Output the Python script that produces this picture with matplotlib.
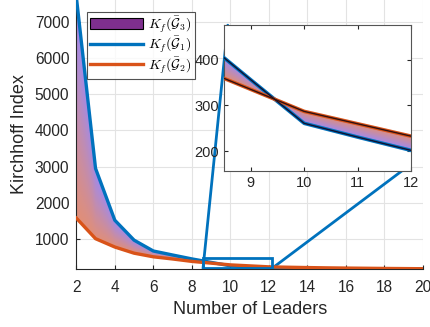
import numpy as np
import matplotlib.pyplot as plt
from matplotlib.patches import Rectangle, ConnectionPatch, Patch
from matplotlib.lines import Line2D

plt.rcParams['font.family'] = ['Liberation Sans', 'DejaVu Sans']
plt.rcParams['mathtext.fontset'] = 'cm'

# data
leaders = [2, 3, 4, 5, 6, 7, 8, 9, 10, 11, 12, 13, 14, 15, 16, 17, 18, 19, 20]
kf_g1 = [7700, 2950, 1520, 970, 670, 560, 452, 356, 261, 231, 202,
         193, 186, 182, 178, 176, 174, 172, 171]
kf_g2 = [1580, 1010, 780, 610, 510, 450, 383, 335, 287, 260, 233,
         222, 213, 205, 199, 194, 189, 185, 181]
labels = [r'$K_f(\bar{\mathcal{G}}_3)$', r'$K_f(\bar{\mathcal{G}}_1)$',
          r'$K_f(\bar{\mathcal{G}}_2)$']

blue = '#0072BD'
orange = '#D95319'
purple = '#7E2F8E'
c_orange = np.array([0.88, 0.56, 0.47])
c_blue = np.array([0.62, 0.54, 0.94])


def gradient_fill(ax, x, y_o, y_b, xlim, ylim):
    x = np.asarray(x, float)
    y_o = np.asarray(y_o, float)
    y_b = np.asarray(y_b, float)
    poly = ax.fill_between(x, y_o, y_b, facecolor='none', edgecolor='none')
    xx = np.linspace(xlim[0], xlim[1], 600)
    yy = np.linspace(ylim[0], ylim[1], 900)
    X, Y = np.meshgrid(xx, yy)
    yo = np.interp(xx, x, y_o)
    yb = np.interp(xx, x, y_b)
    d = yb - yo
    d[np.abs(d) < 1e-9] = 1e-9
    t = np.clip((Y - yo) / d, 0, 1)
    img = (1 - t)[..., None] * c_orange + t[..., None] * c_blue
    im = ax.imshow(img, extent=[xlim[0], xlim[1], ylim[0], ylim[1]],
                   origin='lower', aspect='auto', zorder=1, interpolation='bilinear')
    im.set_clip_path(poly.get_paths()[0], transform=ax.transData)
    ax.set_xlim(xlim)
    ax.set_ylim(ylim)


fig = plt.figure(figsize=(4.3, 3.27), dpi=100)
ax = fig.add_axes([0.1774, 0.177, 0.8063, 0.823])

xlim = (2, 20)
ylim = (170, 7600)
gradient_fill(ax, leaders, kf_g2, kf_g1, xlim, ylim)
ax.plot(leaders, kf_g1, color=blue, lw=2.4, zorder=3)
ax.plot(leaders, kf_g2, color=orange, lw=2.4, zorder=3)

ax.set_xticks(range(2, 21, 2))
ax.set_yticks(range(1000, 8000, 1000))
ax.grid(True, color='#e3e3e3', lw=0.8)
ax.set_axisbelow(True)
for s in ['top', 'right']:
    ax.spines[s].set_visible(False)
for s in ['left', 'bottom']:
    ax.spines[s].set_color('#262626')
    ax.spines[s].set_linewidth(0.8)
ax.tick_params(direction='in', labelsize=11.2, colors='#262626', length=3)
ax.tick_params(axis='x', pad=8)
ax.tick_params(axis='y', pad=5)
ax.set_xlabel('Number of Leaders', fontsize=13, color='#262626', labelpad=4)
ax.set_ylabel('Kirchhoff Index', fontsize=13, color='#262626', labelpad=5)

# zoom box
rx0, rx1, ry0, ry1 = 8.58, 12.16, 190, 490
ax.add_patch(Rectangle((rx0, ry0), rx1 - rx0, ry1 - ry0, fill=False,
                       edgecolor=blue, lw=2, zorder=4))

# legend
handles = [Patch(facecolor=purple, edgecolor='black', lw=0.8),
           Line2D([], [], color=blue, lw=2.4),
           Line2D([], [], color=orange, lw=2.4)]
leg = ax.legend(handles, labels, loc='upper left', bbox_to_anchor=(0.032, 0.957),
                fontsize=10, frameon=True, fancybox=False, handlelength=3.8,
                handleheight=0.9, borderpad=0.2, labelspacing=0.0,
                handletextpad=0.4, borderaxespad=0.0)
leg.get_frame().set_edgecolor('#262626')
leg.get_frame().set_linewidth(0.8)

# inset
ins = fig.add_axes([0.521, 0.477, 0.435, 0.446])
ixlim = (8.5, 12)
iylim = (157, 475)
gradient_fill(ins, leaders, kf_g2, kf_g1, ixlim, iylim)
ins.plot(leaders, kf_g1, color=blue, lw=2.6, zorder=3)
ins.plot(leaders, kf_g1, color='#101030', lw=1.0, zorder=4)
ins.plot(leaders, kf_g2, color=orange, lw=2.6, zorder=3)
ins.plot(leaders, kf_g2, color='#301010', lw=1.0, zorder=4)
ins.set_xlim(ixlim)
ins.set_ylim(iylim)
ins.set_xticks([9, 10, 11, 12])
ins.set_yticks([200, 300, 400])
ins.tick_params(direction='in', labelsize=10.5, colors='#262626', length=3,
                top=True, right=True)
for s in ins.spines.values():
    s.set_color('#555555')
    s.set_linewidth(0.8)
ins.set_zorder(5)

# connector lines, drawn with the main axes so the inset covers them
for (xa, ya), (xb, yb) in [((rx0, ry0), (0.02, 1.0)), ((rx1, ry0), (0.95, 0.0))]:
    con = ConnectionPatch(xyA=(xa, ya), coordsA=ax.transData,
                          xyB=(xb, yb), coordsB=ins.transAxes,
                          color=blue, lw=2, zorder=2, clip_on=False)
    ax.add_artist(con)

fig.savefig('out.png', dpi=100)
